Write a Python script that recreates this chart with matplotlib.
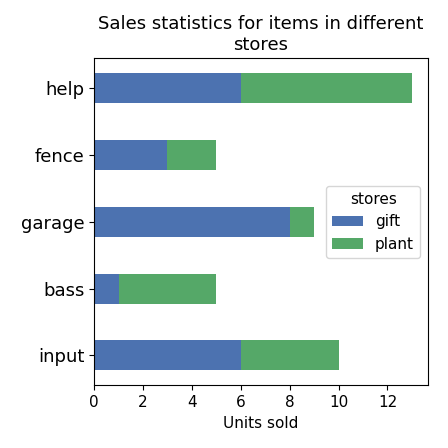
import matplotlib
matplotlib.use("Agg")
import matplotlib.pyplot as plt

categories = ["help", "fence", "garage", "bass", "input"]
gift = [6, 3, 8, 1, 6]
plant = [7, 2, 1, 4, 4]
series_names = ["gift", "plant"]
colors = ["#4C72B0", "#55A868"]

fig, ax = plt.subplots(figsize=(4.48, 4.48), dpi=100)
y = list(range(len(categories)))[::-1]
ax.barh(y, gift, height=0.45, color=colors[0], label=series_names[0])
ax.barh(y, plant, left=gift, height=0.45, color=colors[1], label=series_names[1])
ax.set_yticks(y)
ax.set_yticklabels(categories, fontsize=13)
ax.set_xticks([0, 2, 4, 6, 8, 10, 12])
ax.tick_params(axis='x', labelsize=11)
ax.set_xlabel("Units sold", fontsize=11)
ax.set_title("Sales statistics for items in different\nstores", fontsize=13)
ax.legend(title="stores", loc="center right", frameon=True, fontsize=11, title_fontsize=11)
fig.subplots_adjust(left=0.21, right=0.955, top=0.87, bottom=0.14)
fig.savefig("out.png", dpi=100)
